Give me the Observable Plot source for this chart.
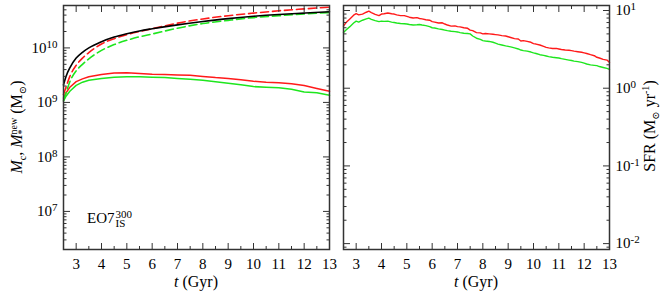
<!DOCTYPE html>
<html><head><meta charset="utf-8">
<script src="https://cdn.jsdelivr.net/npm/d3@7"></script>
<script src="https://cdn.jsdelivr.net/npm/@observablehq/plot@0.6"></script>
<style>
body{margin:0;background:#fff;}
#wrap{position:relative;width:664px;height:291px;font-family:"Liberation Serif","Tinos","Times New Roman","DejaVu Serif",serif;color:#000;}
#wrap svg{position:absolute;top:0;overflow:visible;}
#wrap svg text{font-family:"Liberation Serif","Tinos","Times New Roman","DejaVu Serif",serif;}
.lab{position:absolute;font-size:15px;white-space:nowrap;line-height:1;}
.rot{transform:translate(-50%,-50%) rotate(-90deg);}
.ctr{transform:translate(-50%,-50%);}
.stk{display:inline-block;vertical-align:middle;line-height:0.85;font-size:10px;text-align:left;}
.stk span{display:block;}
sub,sup{font-size:10px;line-height:0;}
</style></head><body><div id="wrap"></div>
<script>
// ---- data ----
const tCum   = [2.5, 2.6, 2.75, 3, 3.25, 3.5, 4, 4.5, 5, 5.5, 6, 7, 8, 9, 10, 11, 12, 13];
const mBlack = [2.1e9, 3.0e9, 4.3e9, 6.5e9, 8.3e9, 1.0e10, 1.3e10, 1.58e10, 1.82e10, 2.05e10, 2.25e10, 2.65e10, 3.05e10, 3.45e10, 3.8e10, 4.1e10, 4.35e10, 4.6e10];
const mRedCum   = [1.4e9, 1.9e9, 3.0e9, 4.8e9, 6.5e9, 8.2e9, 1.18e10, 1.48e10, 1.75e10, 2.0e10, 2.25e10, 2.85e10, 3.4e10, 3.9e10, 4.35e10, 4.8e10, 5.2e10, 5.6e10];
const mGreenCum = [1.1e9, 1.5e9, 2.4e9, 3.8e9, 5.0e9, 6.3e9, 9.0e9, 1.15e10, 1.38e10, 1.6e10, 1.8e10, 2.3e10, 2.8e10, 3.2e10, 3.6e10, 3.9e10, 4.2e10, 4.45e10];

const tNew = [2.5, 2.6, 2.75, 3, 3.25, 3.5, 4, 4.5, 5, 5.5, 6, 6.5, 7, 7.5, 8, 8.5, 9, 9.5, 10, 10.5, 11, 11.5, 12, 12.5, 13];
const mRedNew   = [1.2e9, 1.5e9, 1.9e9, 2.4e9, 2.7e9, 2.95e9, 3.25e9, 3.45e9, 3.5e9, 3.4e9, 3.3e9, 3.25e9, 3.2e9, 3.15e9, 3.0e9, 2.85e9, 2.75e9, 2.6e9, 2.45e9, 2.35e9, 2.3e9, 2.2e9, 2.05e9, 1.8e9, 1.6e9];
const mGreenNew = [1.05e9, 1.3e9, 1.6e9, 2.05e9, 2.35e9, 2.55e9, 2.75e9, 2.9e9, 2.95e9, 2.95e9, 2.9e9, 2.85e9, 2.75e9, 2.65e9, 2.55e9, 2.4e9, 2.25e9, 2.1e9, 1.95e9, 1.9e9, 1.85e9, 1.75e9, 1.55e9, 1.5e9, 1.35e9];

const tSfr = [2.5, 2.6, 2.75, 2.9, 3, 3.1, 3.25, 3.4, 3.5, 3.6, 3.75, 3.9, 4, 4.1, 4.25, 4.4, 4.5, 4.6, 4.75, 4.9, 5, 5.1, 5.25, 5.4, 5.5, 5.6, 5.75, 5.9, 6, 6.1, 6.25, 6.4, 6.5, 6.6, 6.75, 6.9, 7, 7.1, 7.25, 7.4, 7.5, 7.6, 7.75, 7.9, 8, 8.1, 8.25, 8.4, 8.5, 8.6, 8.75, 8.9, 9, 9.1, 9.25, 9.4, 9.5, 9.6, 9.75, 9.9, 10, 10.1, 10.25, 10.4, 10.5, 10.6, 10.75, 10.9, 11, 11.1, 11.25, 11.4, 11.5, 11.6, 11.75, 11.9, 12, 12.1, 12.25, 12.4, 12.5, 12.6, 12.75, 12.9, 13];
const sfrRed   = [6.3, 7.0, 7.8, 8.7, 9.1, 8.8, 9.0, 9.5, 9.8, 9.4, 8.9, 8.6, 9.0, 9.1, 9.3, 9.1, 9.0, 8.8, 8.6, 8.6, 8.4, 8.2, 8.0, 8.1, 7.9, 7.8, 7.6, 7.5, 7.2, 7.1, 6.9, 6.95, 6.7, 6.5, 6.3, 6.35, 6.2, 6.15, 6.0, 5.9, 5.6, 5.5, 5.2, 5.15, 5.0, 5.05, 5.0, 4.95, 4.9, 4.85, 4.75, 4.7, 4.6, 4.5, 4.35, 4.3, 4.05, 4.1, 4.0, 3.9, 3.75, 3.7, 3.6, 3.45, 3.35, 3.3, 3.25, 3.25, 3.2, 3.15, 3.1, 3.08, 3.05, 3.0, 2.95, 2.9, 2.85, 2.8, 2.7, 2.62, 2.5, 2.45, 2.35, 2.3, 2.15];
const sfrGreen = [5.2, 5.6, 6.2, 6.9, 7.3, 7.1, 7.5, 7.8, 8.0, 7.7, 7.4, 7.2, 7.3, 7.25, 7.3, 7.1, 7.0, 6.9, 6.8, 6.75, 6.7, 6.6, 6.5, 6.55, 6.6, 6.5, 6.4, 6.2, 6.0, 5.95, 5.8, 5.7, 5.6, 5.5, 5.4, 5.35, 5.3, 5.2, 5.1, 5.05, 5.0, 4.7, 4.4, 4.25, 4.1, 4.05, 4.0, 3.9, 3.8, 3.7, 3.6, 3.5, 3.45, 3.4, 3.3, 3.2, 3.1, 3.05, 3.0, 2.92, 2.85, 2.8, 2.7, 2.65, 2.6, 2.55, 2.5, 2.47, 2.45, 2.4, 2.35, 2.3, 2.27, 2.23, 2.2, 2.15, 2.1, 2.05, 2.0, 1.97, 1.95, 1.9, 1.85, 1.8, 1.75];

const xTicks = [3, 4, 5, 6, 7, 8, 9, 10, 11, 12, 13];
const xMinor = [2.5, 3.5, 4.5, 5.5, 6.5, 7.5, 8.5, 9.5, 10.5, 11.5, 12.5];
const yTicksL = [1e7, 1e8, 1e9, 1e10];
const yTicksR = [1e-2, 1e-1, 1e0, 1e1];

const RED = "#ff1a1a", GREEN = "#1ee61e";

function minorLog(lo, hi) {
  const out = [];
  for (let e = Math.floor(Math.log10(lo)); e <= Math.ceil(Math.log10(hi)); e++) {
    for (let k = 2; k <= 9; k++) { const v = k * Math.pow(10, e); if (v > lo && v < hi) out.push(v); }
  }
  return out;
}
const expFmt = d => "10^" + Math.round(Math.log10(d));
const blank = () => "";

const tbl = (t, v) => t.map((x, i) => ({t: x, v: v[i]}));

const FONT = '"Liberation Serif","Tinos","Times New Roman","DejaVu Serif",serif';
const style = {fontFamily: FONT, fontSize: "15px", background: "transparent", color: "#000", overflow: "visible"};
const fr = "#333";

function tickMarks(anchorY, ticksY, minorY) {
  return [
    Plot.axisX(xTicks, {anchor: "bottom", tickSize: -6, tickFormat: blank, label: null, stroke: fr}),
    Plot.axisX(xMinor, {anchor: "bottom", tickSize: -3, tickFormat: blank, label: null, stroke: fr}),
    Plot.axisX(xTicks, {anchor: "top", tickSize: -6, tickFormat: blank, label: null, stroke: fr}),
    Plot.axisX(xMinor, {anchor: "top", tickSize: -3, tickFormat: blank, label: null, stroke: fr}),
    Plot.axisX(xTicks, {anchor: "bottom", tickSize: 0, tickPadding: 9, tickFormat: d => String(d), label: null}),
    Plot.axisY(ticksY, {anchor: "left", tickSize: -7, tickFormat: blank, label: null, stroke: fr}),
    Plot.axisY(minorY, {anchor: "left", tickSize: -3.5, tickFormat: blank, label: null, stroke: fr}),
    Plot.axisY(ticksY, {anchor: "right", tickSize: -7, tickFormat: blank, label: null, stroke: fr}),
    Plot.axisY(minorY, {anchor: "right", tickSize: -3.5, tickFormat: blank, label: null, stroke: fr}),
    Plot.axisY(ticksY, {anchor: anchorY, tickSize: 0, tickPadding: 6, tickFormat: expFmt, label: null}),
    Plot.frame({stroke: fr, strokeWidth: 1.5})
  ];
}

const domL = [2e6, 6e10];
const left = Plot.plot({
  width: 335, height: 291, marginLeft: 63, marginRight: 6, marginTop: 5, marginBottom: 42,
  style,
  x: {domain: [2.5, 13]},
  y: {type: "log", domain: domL},
  marks: [
    Plot.line(tbl(tNew, mGreenNew), {x: "t", y: "v", stroke: GREEN, strokeWidth: 1.5}),
    Plot.line(tbl(tNew, mRedNew), {x: "t", y: "v", stroke: RED, strokeWidth: 1.5}),
    Plot.line(tbl(tCum, mGreenCum), {x: "t", y: "v", stroke: GREEN, strokeWidth: 1.6, strokeDasharray: "8,4", curve: "monotone-x"}),
    Plot.line(tbl(tCum, mRedCum), {x: "t", y: "v", stroke: RED, strokeWidth: 1.6, strokeDasharray: "8,4", curve: "monotone-x"}),
    Plot.line(tbl(tCum, mBlack), {x: "t", y: "v", stroke: "#000", strokeWidth: 1.6, curve: "monotone-x"}),
    ...tickMarks("left", yTicksL, minorLog(domL[0], domL[1]))
  ]
});

const domR = [0.0084, 11.6];
const right = Plot.plot({
  width: 329, height: 291, marginLeft: 8, marginRight: 55, marginTop: 5, marginBottom: 42,
  style,
  x: {domain: [2.5, 13]},
  y: {type: "log", domain: domR},
  marks: [
    Plot.line(tbl(tSfr, sfrGreen), {x: "t", y: "v", stroke: GREEN, strokeWidth: 1.4}),
    Plot.line(tbl(tSfr, sfrRed), {x: "t", y: "v", stroke: RED, strokeWidth: 1.4}),
    ...tickMarks("right", yTicksR, minorLog(domR[0], domR[1]))
  ]
});

const wrap = document.getElementById("wrap");
left.style.left = "0px";
right.style.left = "335px";
wrap.appendChild(left);
wrap.appendChild(right);

// superscript exponents in tick labels
for (const svg of [left, right]) {
  svg.style.overflow = "visible";
  d3.select(svg).selectAll("text").each(function () {
    const m = /^10\^(-?\d+)$/.exec(this.textContent);
    if (!m) return;
    const sel = d3.select(this);
    sel.text("10");
    sel.append("tspan").attr("dy", "-0.45em").attr("font-size", "11px").text(m[1]);
  });
}

function lab(html, x, y, cls, fs) {
  const d = document.createElement("div");
  d.className = "lab " + cls;
  d.style.left = x + "px"; d.style.top = y + "px";
  if (fs) d.style.fontSize = fs + "px";
  d.innerHTML = html;
  wrap.appendChild(d);
}
lab('<i>M</i><sub>c</sub>, <i>M</i><span class="stk"><span>new</span><span>*</span></span> (M<sub>⊙</sub>)', 18, 127, "rot", 16);
lab('SFR (M<sub>⊙</sub> yr<sup>-1</sup>)', 650, 126, "rot", 16);
lab('<i>t</i> (Gyr)', 196, 282, "ctr", 16);
lab('<i>t</i> (Gyr)', 476, 282, "ctr", 16);
lab('EO7<span class="stk" style="font-size:11px;margin-left:1px"><span>300</span><span>IS</span></span>', 87, 210, "");
</script></body></html>
